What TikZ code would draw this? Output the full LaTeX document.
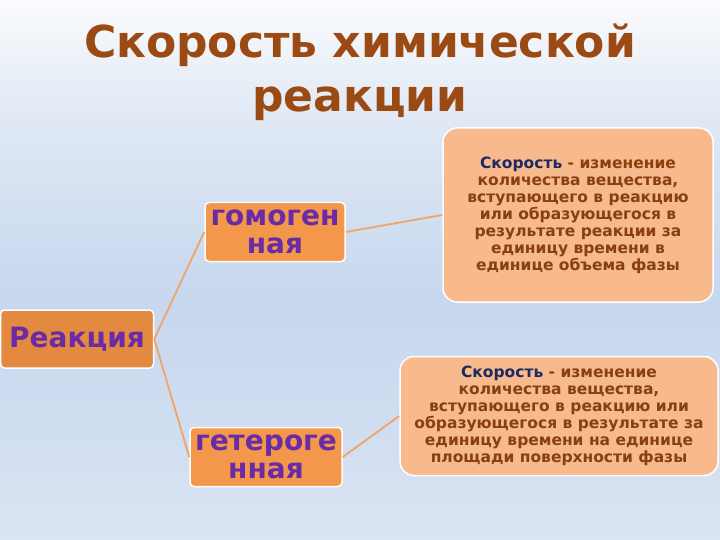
\documentclass[tikz,border=0pt]{standalone}
\usepackage{fontspec}
\setmainfont{DejaVu Sans}
\definecolor{bgtop}{HTML}{FAFBFD}
\definecolor{bgupper}{HTML}{DEE7F4}
\definecolor{bgmid}{HTML}{C6D7EF}
\definecolor{bgbot}{HTML}{DAE4F2}
\definecolor{titlec}{HTML}{9A4A12}
\definecolor{purp}{HTML}{6A2BA6}
\definecolor{org1}{HTML}{E48A40}
\definecolor{org2}{HTML}{F3974A}
\definecolor{peach}{HTML}{F8BA8C}
\definecolor{brn}{HTML}{8A3F0E}
\definecolor{navy}{HTML}{1B2A60}
\definecolor{linec}{HTML}{F0A468}
\pgfdeclareverticalshading{bgsh}{100bp}{color(0bp)=(bgbot); color(25bp)=(bgbot); color(47bp)=(bgmid); color(63bp)=(bgupper); color(75bp)=(bgtop); color(100bp)=(bgtop)}
\tikzset{
  catbox/.style={draw=white, line width=1.5pt, rounded corners=4pt, fill=org2, text=purp, font=\bfseries\fontsize{28}{28}\selectfont, align=center, inner sep=0pt},
  defbox/.style={draw=white, line width=1.5pt, rounded corners=14pt, fill=peach, text=brn, font=\bfseries\fontsize{15.5}{17}\selectfont, align=center, inner sep=0pt},
  conn/.style={draw=linec, line width=1.8pt}
}
\begin{document}
\begin{tikzpicture}[x=1pt,y=-1pt]
\useasboundingbox (0,0) rectangle (720,540);
\shade[shading=bgsh] (0,0) rectangle (720,540);
\node[text=titlec, font=\bfseries\fontsize{44}{54}\selectfont, align=center] (title) at (360,72) {Скорость химической\\реакции};
\node[catbox, fill=org1, minimum width=153, minimum height=58] (r) at (77,339) {Реакция};
\node[catbox, minimum width=140, minimum height=59] (g1) at (275,232) {гомоген\\ная};
\node[catbox, minimum width=152, minimum height=59] (g2) at (266,457) {гетероге\\нная};
\node[defbox, minimum width=270, minimum height=174] (d1) at (578,215) {\textcolor{navy}{Скорость} - изменение\\количества вещества,\\вступающего в реакцию\\или образующегося в\\результате реакции за\\единицу времени в\\единице объема фазы};
\node[defbox, minimum width=318, minimum height=119] (d2) at (559,416) {\textcolor{navy}{Скорость} - изменение\\количества вещества,\\вступающего в реакцию или\\образующегося в результате за\\единицу времени на единице\\площади поверхности фазы};
\draw[conn] (r.east) -- (g1.west);
\draw[conn] (r.east) -- (g2.west);
\draw[conn] (g1.east) -- (d1.west);
\draw[conn] (g2.east) -- (d2.west);
\end{tikzpicture}
\end{document}
